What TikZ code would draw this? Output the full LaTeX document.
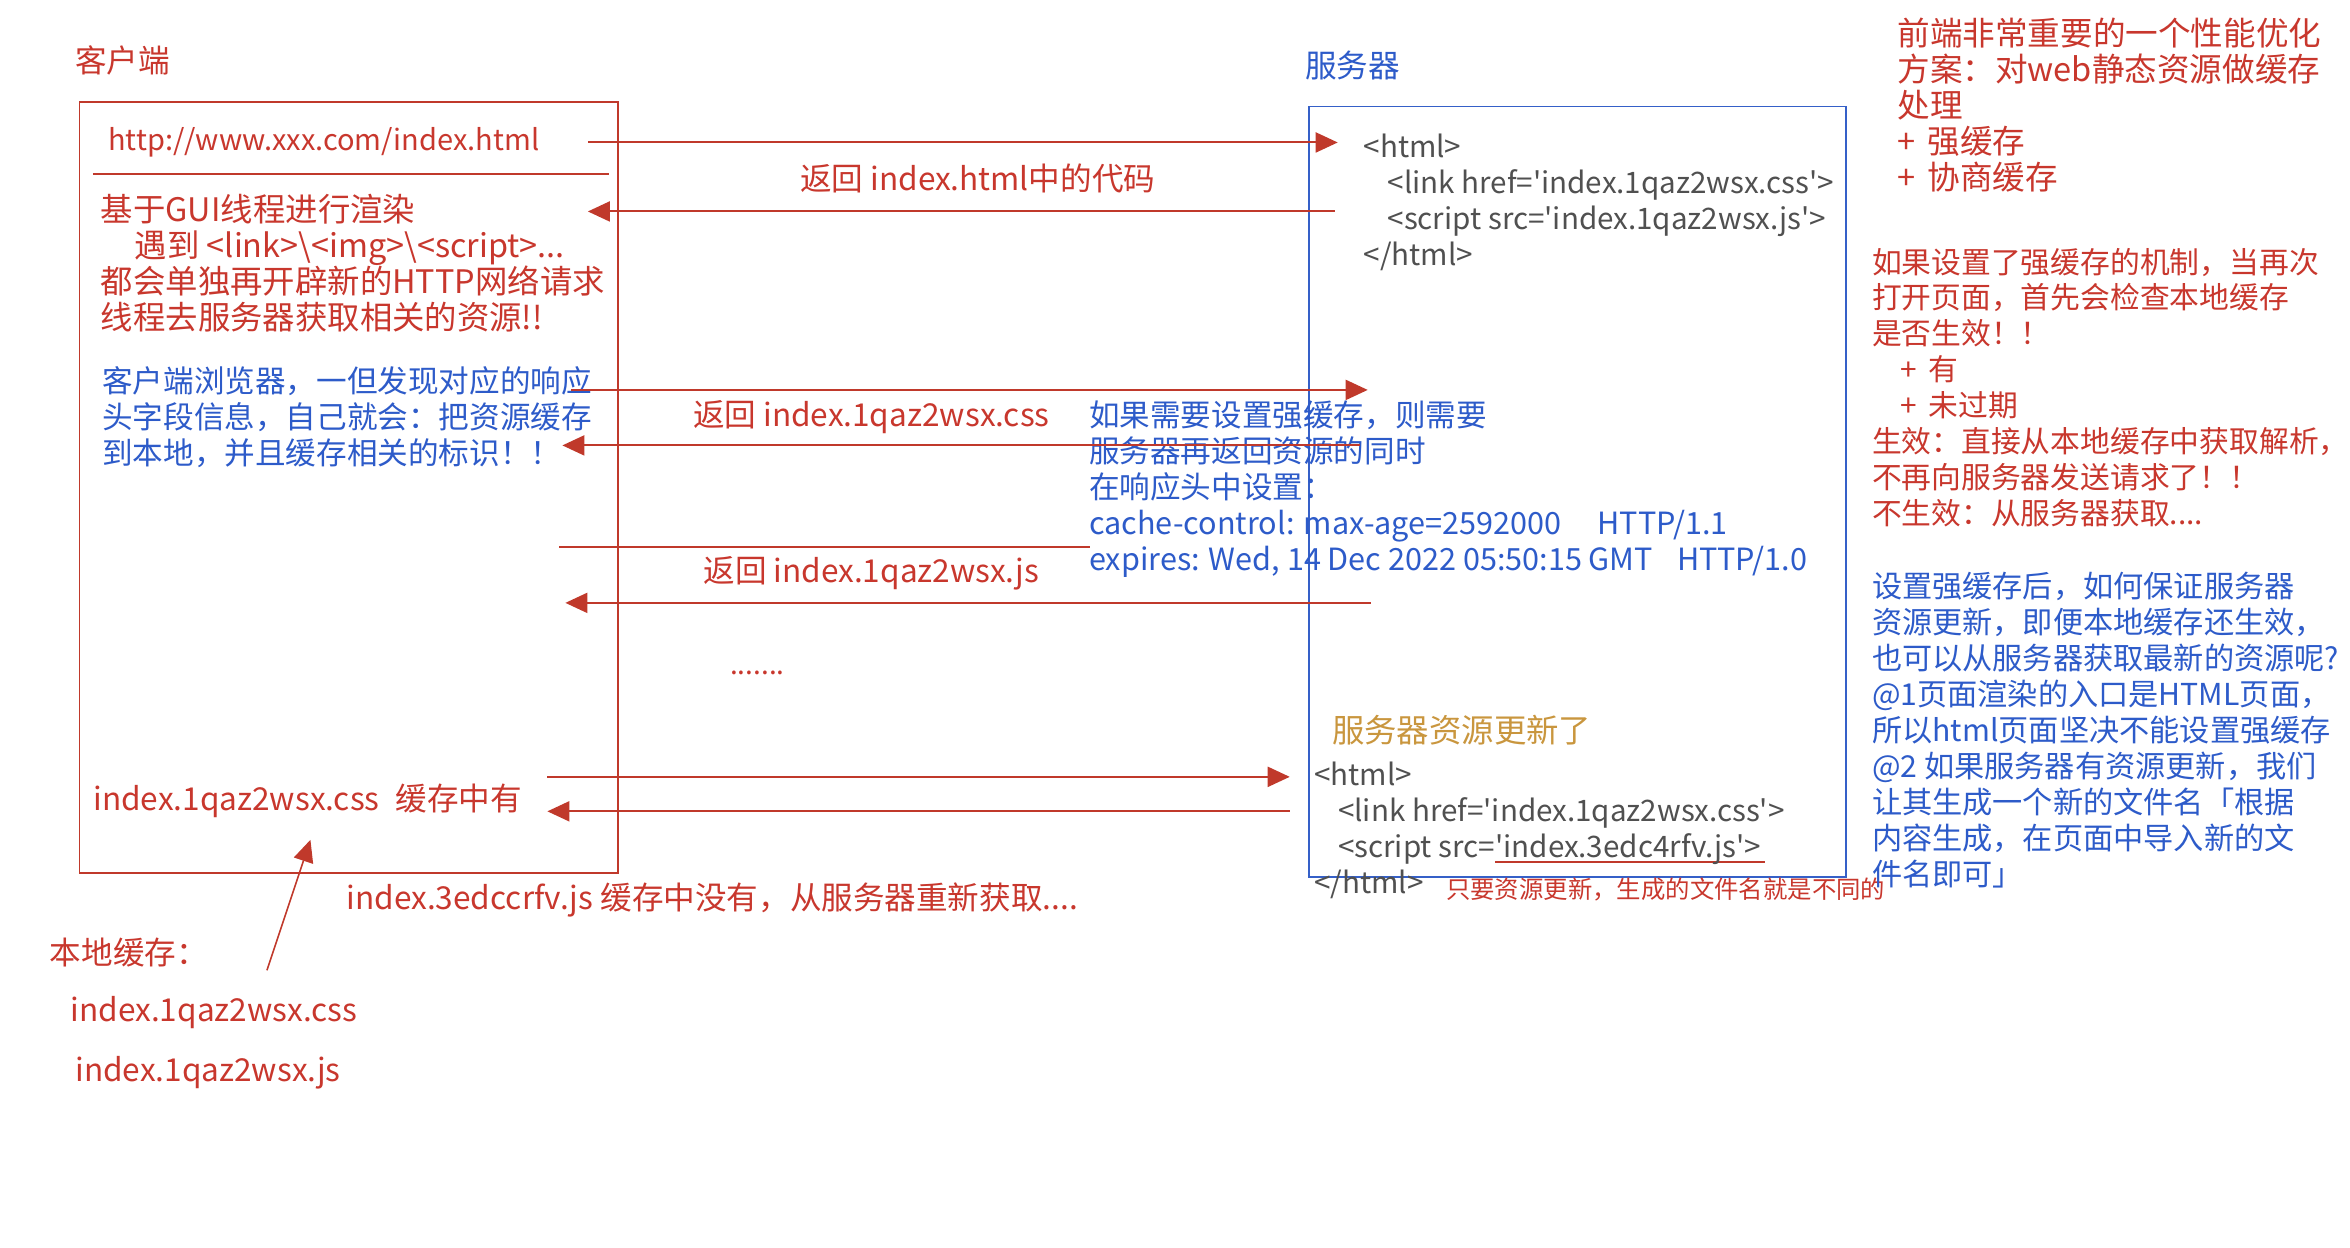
\documentclass[tikz,border=0pt]{standalone}
\usepackage{fontspec}
\setmainfont{Noto Sans CJK SC}[Ligatures=TeXOff]
\usetikzlibrary{arrows.meta}
\definecolor{txtred}{HTML}{C8372D}
\definecolor{txtblue}{HTML}{2D5BC9}
\definecolor{codegray}{HTML}{505050}
\definecolor{txtgold}{HTML}{C9963E}
\definecolor{boxred}{HTML}{C0392B}
\definecolor{boxblue}{HTML}{3560C8}
\tikzset{
  txt/.style={inner sep=0pt, align=left},
  redtxt/.style={txt, text=txtred},
  bluetxt/.style={txt, text=txtblue},
  codetxt/.style={txt, text=codegray, font=\fontsize{14.8}{18}\selectfont},
  msg/.style={draw=boxred, line width=1pt, -{Triangle[length=11pt,width=10pt]}},
  msgline/.style={draw=boxred, line width=1pt},
}

\begin{document}
\begin{tikzpicture}[x=0.75pt,y=0.75pt,yscale=-1,xscale=1]
\useasboundingbox (0,0) rectangle (1567,832);

%Shape: Rectangle [client]
\draw [boxred, line width=0.9pt] (53,68) -- (412,68) -- (412,582) -- (53,582) -- cycle ;
%Shape: Rectangle [server]
\draw [boxblue, line width=0.9pt] (873,71) -- (1231,71) -- (1231,585) -- (873,585) -- cycle ;
%Shape: Line [separator]
\draw [boxred, line width=1pt] (62,116) -- (406,116) ;
%Shape: Line [underline new js]
\draw [boxred, line width=1pt] (997,575) -- (1177,575) ;

% Text Node
\draw (50,40) node (clientlbl) [redtxt, anchor=west, font=\fontsize{15.8}{18}\selectfont] {客户端};
% Text Node
\draw (870,44) node (serverlbl) [bluetxt, anchor=west, font=\fontsize{15.8}{18}\selectfont] {服务器};
% Text Node
\draw (72,95) node (url) [redtxt, anchor=west, font=\fontsize{14.5}{18}\selectfont] {http://www.xxx.com/index.html};
% Text Node
\draw (67,129) node (render) [redtxt, anchor=north west, font=\fontsize{16.2}{18}\selectfont] {基于GUI线程进行渲染\\
\hspace*{17pt}遇到 <link>\textbackslash<img>\textbackslash<script>...\\
都会单独再开辟新的HTTP网络请求\\
线程去服务器获取相关的资源!!};
% Text Node
\draw (68,244) node (browser) [bluetxt, anchor=north west, font=\fontsize{15.3}{18}\selectfont] {客户端浏览器，一但发现对应的响应\\
头字段信息，自己就会：把资源缓存\\
到本地，并且缓存相关的标识！！};
% Text Node
\draw (909,89) node (htmlold) [codetxt, anchor=north west] {<html>\\
\hspace*{12pt}<link href='index.1qaz2wsx.css'>\\
\hspace*{12pt}<script src='index.1qaz2wsx.js'>\\
</html>};
% Text Node
\draw (652,119) node (rethtml) [redtxt, font=\fontsize{15.8}{18}\selectfont] {返回 index.html中的代码};
% Text Node
\draw (581,278) node (retcss) [redtxt, font=\fontsize{15.8}{18}\selectfont] {返回 index.1qaz2wsx.css};
% Text Node
\draw (581,382) node (retjs) [redtxt, font=\fontsize{15.8}{18}\selectfont] {返回 index.1qaz2wsx.js};
% Text Node
\draw (505,449) node (more) [redtxt, font=\fontsize{14}{18}\selectfont] {.......};
% Text Node
\draw (726,267) node (strong) [bluetxt, anchor=north west, font=\fontsize{15.3}{18}\selectfont] {如果需要设置强缓存，则需要\\
服务器再返回资源的同时\\
在响应头中设置：\\
cache-control: max-age=2592000\hspace{18pt}HTTP/1.1\\
expires: Wed, 14 Dec 2022 05:50:15 GMT\hspace{12pt}HTTP/1.0};
% Text Node
\draw (888,487) node (updated) [txt, text=txtgold, anchor=west, font=\fontsize{16.2}{18}\selectfont] {服务器资源更新了};
% Text Node
\draw (876,508) node (htmlnew) [codetxt, anchor=north west] {<html>\\
\hspace*{12pt}<link href='index.1qaz2wsx.css'>\\
\hspace*{12pt}<script src='index.3edc4rfv.js'>\\
</html>};
% Text Node
\draw (964,593) node (namenote) [redtxt, anchor=west, font=\fontsize{12.2}{18}\selectfont] {只要资源更新，生成的文件名就是不同的};
% Text Node
\draw (62,534) node (cachehit) [redtxt, anchor=west, font=\fontsize{15.8}{18}\selectfont] {index.1qaz2wsx.css\hspace{8pt}缓存中有};
% Text Node
\draw (231,600) node (cachemiss) [redtxt, anchor=west, font=\fontsize{15.8}{18}\selectfont] {index.3edccrfv.js 缓存中没有，从服务器重新获取....};
% Text Node
\draw (33,635) node (localcache) [redtxt, anchor=west, font=\fontsize{15.8}{18}\selectfont] {本地缓存：};
% Text Node
\draw (47,675) node (localcss) [redtxt, anchor=west, font=\fontsize{15.8}{18}\selectfont] {index.1qaz2wsx.css};
% Text Node
\draw (50,715) node (localjs) [redtxt, anchor=west, font=\fontsize{15.8}{18}\selectfont] {index.1qaz2wsx.js};
% Text Node
\draw (1265,12) node (optim) [redtxt, anchor=north west, font=\fontsize{16.3}{18}\selectfont] {前端非常重要的一个性能优化\\
方案：对web静态资源做缓存\\
处理\\
+\hspace{6pt}强缓存\\
+\hspace{6pt}协商缓存};
% Text Node
\draw (1248,165) node (check) [redtxt, anchor=north west, font=\fontsize{14.9}{18}\selectfont] {如果设置了强缓存的机制，当再次\\
打开页面，首先会检查本地缓存\\
是否生效！！\\
\hspace*{14pt}+\hspace{6pt}有\\
\hspace*{14pt}+\hspace{6pt}未过期\\
生效：直接从本地缓存中获取解析，\\
不再向服务器发送请求了！！\\
不生效：从服务器获取....};
% Text Node
\draw (1248,381) node (update) [bluetxt, anchor=north west, font=\fontsize{15.1}{18}\selectfont] {设置强缓存后，如何保证服务器\\
资源更新，即便本地缓存还生效，\\
也可以从服务器获取最新的资源呢?\\
@1页面渲染的入口是HTML页面，\\
所以html页面坚决不能设置强缓存\\
@2 如果服务器有资源更新，我们\\
让其生成一个新的文件名「根据\\
内容生成，在页面中导入新的文\\
件名即可」};

% Connector ends
\coordinate (reqhtmlA) at (392,95);
\coordinate (reqhtmlB) at (892,95);
\coordinate (rethtmlA) at (890,141);
\coordinate (rethtmlB) at (392,141);
\coordinate (reqcssA) at (381,260);
\coordinate (reqcssB) at (912,260);
\coordinate (retcssA) at (907,297);
\coordinate (retcssB) at (375,297);
\coordinate (reqjsA) at (373,365);
\coordinate (reqjsB) at (727,365);
\coordinate (retjsA) at (914,402);
\coordinate (retjsB) at (377,402);
\coordinate (reqnewA) at (365,518);
\coordinate (reqnewB) at (860,518);
\coordinate (retnewA) at (860,541);
\coordinate (retnewB) at (365,541);
\coordinate (localA) at (178,647);
\coordinate (localB) at (207,560);

% Connectors
\draw [msg] (reqhtmlA) -- (reqhtmlB);
\draw [msg] (rethtmlA) -- (rethtmlB);
\draw [msg] (reqcssA) -- (reqcssB);
\draw [msg] (retcssA) -- (retcssB);
\draw [msgline] (reqjsA) -- (reqjsB);
\draw [msg] (retjsA) -- (retjsB);
\draw [msg] (reqnewA) -- (reqnewB);
\draw [msg] (retnewA) -- (retnewB);
\draw [msg, line width=0.8pt] (localA) -- (localB);

\end{tikzpicture}
\end{document}
